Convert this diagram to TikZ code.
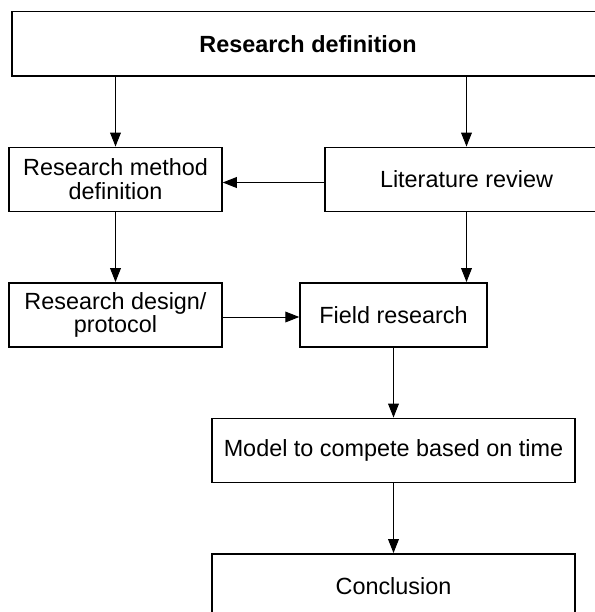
\documentclass[tikz,border=0pt]{standalone}
\usepackage{fontspec}
\setmainfont{Liberation Sans}
\usepackage{tikz}
\usetikzlibrary{arrows.meta}

\begin{document}
\begin{tikzpicture}[x=1pt,y=1pt,->,>={Triangle[length=7pt,width=5.4pt]},line width=0.5pt,
    node distance=67.75pt,
    box node/.style={rectangle,draw,line width=0.75pt,minimum height=32.2pt,
      align=center,inner sep=0pt,font=\fontsize{11.7}{11.9}\selectfont}]
    \clip (0,0) rectangle (297.5,-306);
    \node[box node, minimum width=296pt, font=\fontsize{11.7}{11.9}\selectfont\bfseries] (res_def) at (154,-21.95) {Research definition};
    \node[box node, minimum width=106.5pt] (method_def) at (57.75,-89.75) {Research method\\definition};
    \node[box node, minimum width=141.5pt] (lit_rev) at (233.25,-89.75) {Literature review};
    \node[box node, minimum width=106.5pt] (design) [below of=method_def] {Research design/\\protocol};
    \node[box node, minimum width=93.5pt] (field) at (196.75,-157.5) {Field research};
    \node[box node, minimum width=181.5pt] (model) [below of=field] {Model to compete based on time};
    \node[box node, minimum width=181.5pt] (concl) [below of=model] {Conclusion};
    \path
    (res_def.south -| method_def.north) edge (method_def.north)
    (res_def.south -| lit_rev.north) edge (lit_rev.north)
    ([yshift=-1.5pt]lit_rev.west) edge ([yshift=-1.5pt]method_def.east)
    (method_def) edge (design)
    (lit_rev.south) edge (lit_rev.south |- field.north)
    ([yshift=-1pt]design.east) edge ([yshift=-1pt]field.west)
    (field) edge (model)
    (model) edge (concl)
    ;
  \end{tikzpicture}
\end{document}
